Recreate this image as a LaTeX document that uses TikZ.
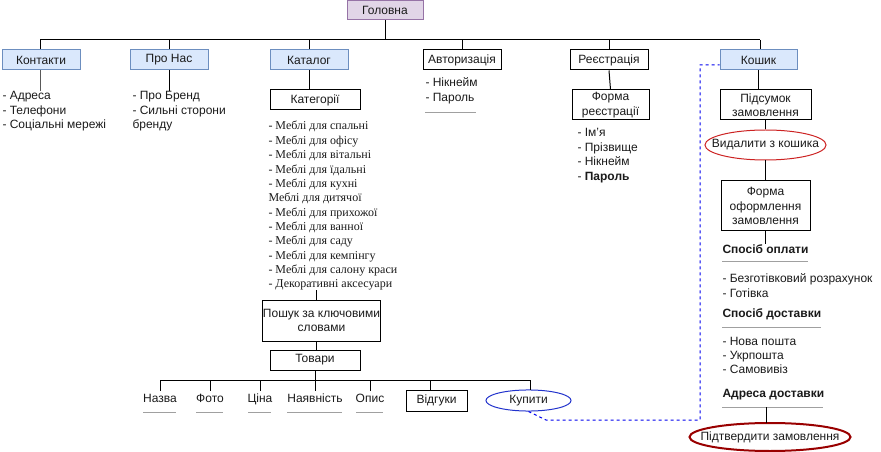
\documentclass[tikz,border=0pt]{standalone}
\usepackage{fontspec}
\setmainfont{Liberation Sans}
\newfontfamily\catfont{Liberation Serif}
\usetikzlibrary{shapes.geometric}
\definecolor{bluefill}{HTML}{DAE8FC}
\definecolor{blueline}{HTML}{6C8EBF}
\definecolor{purfill}{HTML}{E1D5E7}
\definecolor{purline}{HTML}{9673A6}
\definecolor{txt}{HTML}{1A1A1A}
\definecolor{ulc}{HTML}{A0A0A0}
\definecolor{redA}{HTML}{CC2222}
\definecolor{redB}{HTML}{990000}
\definecolor{blueC}{HTML}{2233CC}
\definecolor{dashblue}{HTML}{0000EE}
\begin{document}
\begin{tikzpicture}[x=0.75pt,y=-0.75pt,
  font=\fontsize{9}{10.9}\selectfont, line width=0.75pt, text=txt,
  sz/.style n args={2}{minimum width=#1*0.75pt, minimum height=#2*0.75pt},
  box/.style={draw=black, fill=white, inner sep=0, align=center},
  bluebox/.style={draw=blueline, fill=bluefill, inner sep=0, align=center},
  purbox/.style={draw=purline, fill=purfill, inner sep=0, align=center},
  ovaltext/.style={inner sep=0, align=center},
  itm/.style={anchor=base west, inner sep=0},
  leaf/.style={anchor=base, inner xsep=0, inner ysep=1.5pt},
  ul/.style={draw=ulc, line width=0.75pt},
  conn/.style={draw=black},
  link/.style={draw=dashblue, dash pattern=on 2.25pt off 2.25pt}]
\useasboundingbox (0,0) rectangle (881,452);

% top level
\node[purbox, sz={76}{19}] (main) at (385,10.5) {Головна};
\node[bluebox, sz={78}{20}] (kont) at (41,60) {Контакти};
\node[bluebox, sz={78}{20}] (pro) at (169,60) {Про Нас};
\node[bluebox, sz={78}{20}] (kat) at (309,60) {Каталог};
\node[box, sz={78}{20}] (avt) at (462,60) {Авторизація};
\node[box, sz={78}{20}] (reg) at (609,60) {Реєстрація};
\node[bluebox, sz={77}{20}] (kosh) at (758.5,60) {Кошик};

\coordinate (b1) at (40,40);
\coordinate (b2) at (760,40);
\draw[conn] (main.south) -- (main.south |- b1);
\draw[conn] (b1) -- (b2);
\draw[conn] (b1) -- (b1 |- kont.north);
\foreach \n in {pro,kat,avt,reg} \draw[conn] (\n.north |- b1) -- (\n.north);
\draw[conn] (b2) -- (b2 |- kosh.north);

% Контакти
\foreach [count=\i from 0] \t in {- Адреса, - Телефони, - Соціальні мережі}
  \node[itm] (kc\i) at (2,100+\i*14.5) {\t};
\draw[draw=black!65] (kont.south -| b1) -- (b1 |- kc0.north);

% Про Нас
\foreach [count=\i from 0] \t in {- Про Бренд, - Сильні сторони, бренду}
  \node[itm] (pc\i) at (132,100+\i*14.5) {\t};
\draw[conn] (pro.south) -- (pro.south |- pc0.north);

% Каталог
\node[box, sz={90}{20}] (kateg) at (315,100) {Категорії};
\draw[conn] (kat.south) -- (kat.south |- kateg.north);
\foreach [count=\i from 0] \t in {- Меблі для спальні, - Меблі для офісу, - Меблі для вітальні,
  - Меблі для їдальні, - Меблі для кухні, Меблі для дитячої, - Меблі для прихожої,
  - Меблі для ванної, - Меблі для саду, - Меблі для кемпінгу, - Меблі для салону краси,
  - Декоративні аксесуари}
  \node[itm, font=\catfont\fontsize{9}{10.9}\selectfont] (cc\i) at (268,130+\i*14.36) {\t};
\node[box, sz={109}{41}] (posh) at (321.5,320.5) {Пошук за ключовими\\словами};
\coordinate (catend) at (316,290);
\draw[conn] (catend) -- (catend |- posh.north);
\node[box, sz={90}{20}] (tov) at (315,360) {Товари};
\draw[conn] (catend |- posh.south) -- (catend |- tov.north);

% Товари children
\coordinate (t1) at (161,380);
\coordinate (t2) at (530,380);
\draw[conn] (tov.south) -- (tov.south |- t1);
\draw[conn] (t1) -- (t2);
\node[leaf] (nazva) at (160,402) {Назва};
\node[leaf] (foto) at (210,402) {Фото};
\node[leaf] (tsina) at (260,402) {Ціна};
\node[leaf] (nayav) at (315,402) {Наявність};
\node[leaf] (opys) at (370,402) {Опис};
\node[box, sz={61}{21}] (vidg) at (436.5,400.5) {Відгуки};
\node[ovaltext, sz={85}{21}] (kup) at (528.5,400.5) {Купити};
\draw[blueC] (kup.center) ellipse [x radius=31.9pt, y radius=7.9pt];
\foreach \n in {nazva,foto,tsina,nayav,opys} \draw[conn] (\n.north |- t1) -- (\n.north);
\coordinate (tv) at (430,380);
\draw[conn] (tv) -- (tv |- vidg.north);
\draw[conn] (t2) -- (t2 |- kup.north);
\draw[ul] (143,412) -- (176,412);
\draw[ul] (196,412) -- (223,412);
\draw[ul] (248,412) -- (271,412);
\draw[ul] (287,412) -- (342,412);
\draw[ul] (356,412) -- (383,412);

% Авторизація
\node[itm] (ac0) at (425,87) {- Нікнейм};
\node[itm] (ac1) at (425,102) {- Пароль};
\draw[ul] (425,113) -- (476,113);

% Реєстрація
\node[box, sz={77}{30}] (formreg) at (610.5,105) {Форма\\реєстрації};
\draw[conn] (reg.south) -- (formreg.north);
\node[itm] (rc0) at (577,137) {- Ім'я};
\node[itm] (rc1) at (577,151.5) {- Прізвище};
\node[itm] (rc2) at (577,166) {- Нікнейм};
\node[itm] (rc3) at (577,180.5) {- \textbf{Пароль}};

% Кошик
\node[box, sz={91}{30}] (pids) at (765.5,105) {Підсумок\\замовлення};
\draw[conn] (kosh.south) -- (kosh.south |- pids.north);
\node[ovaltext, sz={121}{30}] (vyd) at (765.5,145) {Видалити з кошика};
\draw[redA] (vyd.center) ellipse [x radius=45.4pt, y radius=11.25pt];
\draw[conn] (pids.south) -- (vyd.north);
\node[box, sz={89}{50}] (fo) at (765.5,206) {Форма\\оформлення\\замовлення};
\draw[conn] (vyd.south) -- (fo.north);
\node[itm, font=\bfseries\fontsize{9}{10.9}\selectfont] (sop) at (722,253) {Спосіб оплати};
\draw[conn] (fo.south) -- (fo.south |- sop.north);
\draw[ul] (722,262) -- (808,262);
\node[itm] (op0) at (722,282) {- Безготівковий розрахунок};
\node[itm] (op1) at (722,297) {- Готівка};
\node[itm, font=\bfseries\fontsize{9}{10.9}\selectfont] (sdost) at (722,317) {Спосіб доставки};
\draw[ul] (722,327) -- (821,327);
\node[itm] (ds0) at (722,345) {- Нова пошта};
\node[itm] (ds1) at (722,359) {- Укрпошта};
\node[itm] (ds2) at (722,373) {- Самовивіз};
\node[itm, font=\bfseries\fontsize{9}{10.9}\selectfont] (adr) at (722,397) {Адреса доставки};
\draw[ul] (722,407) -- (823,407);
\node[ovaltext, sz={161}{28}] (pidtv) at (770,437) {Підтвердити замовлення};
\draw[redB, line width=1.5pt] (pidtv.center) ellipse [x radius=60.4pt, y radius=10.5pt];
\coordinate (adrend) at (766,407);
\draw[conn] (adrend) -- (adrend |- pidtv.north);

% dashed link Купити -> Кошик
\coordinate (d1) at (546,420);
\coordinate (d2) at (700,420);
\coordinate (d3) at (700,65);
\draw[link] (kup.south) -- (d1) -- (d2) -- (d3) -- (d3 -| kosh.west);
\end{tikzpicture}
\end{document}
